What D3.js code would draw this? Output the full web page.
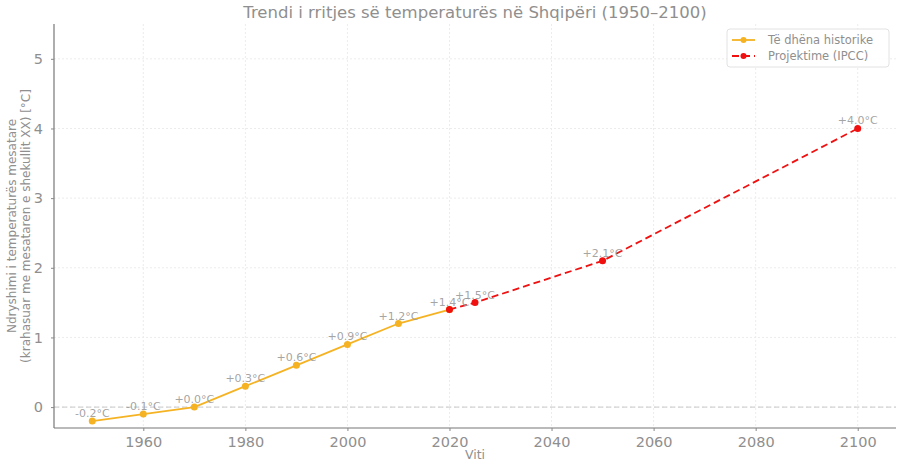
<!DOCTYPE html>
<html>
<head>
<meta charset="utf-8">
<script src="https://cdn.jsdelivr.net/npm/d3@7"></script>
<style>
  html, body { margin: 0; padding: 0; background: #fff; }
  svg { display: block; font-family: "DejaVu Sans", sans-serif; }
</style>
</head>
<body>
<svg id="chart"></svg>
<script>
// Temperature change trend in Albania, historic + IPCC projection

const histYears = [1950, 1960, 1970, 1980, 1990, 2000, 2010, 2020];
const histValues = [-0.2, -0.1, 0.0, 0.3, 0.6, 0.9, 1.2, 1.4];

const projYears = [2020, 2025, 2050, 2100];
const projValues = [1.4, 1.5, 2.1, 4.0];

const xTicks = [1960, 1980, 2000, 2020, 2040, 2060, 2080, 2100];
const yTicks = [0, 1, 2, 3, 4, 5];

const seriesNames = ['Të dhëna historike', 'Projektime (IPCC)'];

const W = 900, H = 470;
const MARGIN = { top: 24, right: 4, bottom: 42, left: 54 };
const width = W - MARGIN.left - MARGIN.right;
const height = H - MARGIN.top - MARGIN.bottom;

const ORANGE = '#f5b324';
const RED = '#f01010';
const TEXT = '#8f8f8f';

const svg = d3.select('#chart').attr('width', W).attr('height', H);

const x = d3.scaleLinear().domain([1942.5, 2107.5]).range([0, width]);
const y = d3.scaleLinear().domain([-0.3, 5.5]).range([height, 0]);

const g = svg.append('g').attr('transform', `translate(${MARGIN.left},${MARGIN.top})`);

// grid
g.append('g')
    .selectAll('line')
    .data(xTicks)
    .join('line')
    .attr('x1', d => x(d)).attr('x2', d => x(d))
    .attr('y1', 0).attr('y2', height)
    .attr('stroke', '#ececec')
    .attr('stroke-dasharray', '2,2');

g.append('g')
    .selectAll('line')
    .data(yTicks)
    .join('line')
    .attr('x1', 0).attr('x2', width)
    .attr('y1', d => y(d)).attr('y2', d => y(d))
    .attr('stroke', '#ececec')
    .attr('stroke-dasharray', '2,2');

// zero reference line
g.append('line')
    .attr('x1', 0).attr('x2', width)
    .attr('y1', y(0)).attr('y2', y(0))
    .attr('stroke', '#c8c8c8')
    .attr('stroke-width', 1)
    .attr('stroke-dasharray', '5,3');

// axes
const xAxis = g.append('g')
    .attr('transform', `translate(0,${height})`)
    .call(d3.axisBottom(x).tickValues(xTicks).tickFormat(d3.format('d')).tickSize(3).tickPadding(6));

const yAxis = g.append('g')
    .call(d3.axisLeft(y).tickValues(yTicks).tickFormat(d3.format('d')).tickSize(3).tickPadding(8));

[xAxis, yAxis].forEach(ax => {
    ax.select('.domain').attr('stroke', '#777').attr('stroke-width', 1.2);
    ax.selectAll('.tick line').attr('stroke', '#888');
    ax.selectAll('.tick text')
        .attr('fill', TEXT)
        .style('font-size', '14.5px')
        .style('font-family', '"DejaVu Sans", sans-serif');
});
xAxis.select('.domain').attr('d', `M0,0H${width}`);
yAxis.select('.domain').attr('d', `M0,${height}V0`);

// lines
const hist = histYears.map((d, i) => ({ year: d, value: histValues[i] }));
const proj = projYears.map((d, i) => ({ year: d, value: projValues[i] }));

const line = d3.line().x(d => x(d.year)).y(d => y(d.value));

g.append('path')
    .datum(hist)
    .attr('d', line)
    .attr('fill', 'none')
    .attr('stroke', ORANGE)
    .attr('stroke-width', 1.8);

g.selectAll('circle.hist')
    .data(hist)
    .join('circle')
    .attr('class', 'hist')
    .attr('cx', d => x(d.year))
    .attr('cy', d => y(d.value))
    .attr('r', 3.5)
    .attr('fill', ORANGE);

g.append('path')
    .datum(proj)
    .attr('d', line)
    .attr('fill', 'none')
    .attr('stroke', RED)
    .attr('stroke-width', 1.8)
    .attr('stroke-dasharray', '7,4');

g.selectAll('circle.proj')
    .data(proj)
    .join('circle')
    .attr('class', 'proj')
    .attr('cx', d => x(d.year))
    .attr('cy', d => y(d.value))
    .attr('r', 3.5)
    .attr('fill', RED);

// value labels
const fmt = v => (v < 0 ? '-' : '+') + Math.abs(v).toFixed(1) + '°C';
const labels = hist.concat(proj.slice(1));

g.selectAll('text.val')
    .data(labels)
    .join('text')
    .attr('class', 'val')
    .attr('x', d => x(d.year))
    .attr('y', d => y(d.value) - 4)
    .attr('text-anchor', 'middle')
    .attr('fill', '#999')
    .attr('fill-opacity', 0.9)
    .style('font-size', '11px')
    .text(d => fmt(d.value));

// title
svg.append('text')
    .attr('x', MARGIN.left + width / 2)
    .attr('y', 18)
    .attr('text-anchor', 'middle')
    .attr('fill', TEXT)
    .style('font-size', '16.5px')
    .text('Trendi i rritjes së temperaturës në Shqipëri (1950–2100)');

// axis labels
svg.append('text')
    .attr('x', MARGIN.left + width / 2)
    .attr('y', 459)
    .attr('text-anchor', 'middle')
    .attr('fill', TEXT)
    .style('font-size', '12.5px')
    .text('Viti');

const yl = svg.append('text')
    .attr('transform', `translate(16,${MARGIN.top + height / 2}) rotate(-90)`)
    .attr('text-anchor', 'middle')
    .attr('fill', TEXT)
    .style('font-size', '12px');
yl.append('tspan').attr('x', 0).attr('dy', 0).text('Ndryshimi i temperaturës mesatare');
yl.append('tspan').attr('x', 0).attr('dy', 14).text('(krahasuar me mesataren e shekullit XX) [°C]');

// legend
const legend = svg.append('g').attr('transform', 'translate(727,29)');
legend.append('rect')
    .attr('width', 162).attr('height', 38)
    .attr('rx', 3)
    .attr('fill', '#fff')
    .attr('fill-opacity', 0.85)
    .attr('stroke', '#e2e2e2');

[ORANGE, RED].forEach((c, i) => {
    const row = legend.append('g').attr('transform', `translate(0,${11 + i * 16})`);
    row.append('line')
        .attr('x1', 5).attr('x2', 28)
        .attr('stroke', c).attr('stroke-width', 1.8)
        .attr('stroke-dasharray', i === 1 ? '7,4' : null);
    row.append('circle').attr('cx', 16.5).attr('cy', 0).attr('r', 3).attr('fill', c);
    row.append('text')
        .attr('x', 41).attr('y', 4)
        .attr('fill', TEXT)
        .style('font-size', '11.5px')
        .text(seriesNames[i]);
});
</script>
</body>
</html>
